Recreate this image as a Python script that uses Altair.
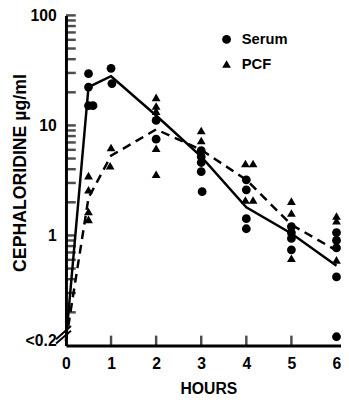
import altair as alt
import pandas as pd

FONT = "Liberation Sans"

# ---- data ----
hours = [0, 1, 2, 3, 4, 5, 6]
y_label_values = [0.11, 1, 10, 100]          # 0.11 = the "<0.2" level

serum_t = [0.5, 0.5, 0.5, 0.6, 1.0, 1.02, 2, 2, 3, 3, 3, 3, 3.02,
           4, 4, 4, 4, 5, 5, 5, 5, 6, 6, 6, 6, 6]
serum_v = [29.5, 22.3, 15.1, 15.1, 33, 24, 11.1, 7.5, 5.9, 5.2, 4.6, 3.8, 2.5,
           3.2, 2.6, 1.42, 1.15, 1.2, 1.06, 0.94, 0.74, 1.06, 0.9, 0.77, 0.42, 0.12]

pcf_t = [0.5, 0.5, 0.5, 0.5, 1.0, 0.98, 2, 2, 2, 2, 2, 3, 3,
         3.98, 4.15, 3.98, 4.15, 5, 5, 5, 6, 6, 6]
pcf_v = [3.5, 2.6, 1.65, 1.4, 6.3, 4.3, 18, 15, 13.5, 6.2, 3.6, 9.0, 7.3,
         4.5, 4.5, 2.1, 2.1, 2.05, 1.6, 0.62, 1.5, 1.36, 0.6]

mean_t = [0, 0.5, 1, 2, 3, 4, 5, 6]
serum_mean = [0.11, 22.3, 28, 12.3, 5.2, 1.8, 1.04, 0.53]
pcf_mean = [0.11, 2.2, 5.3, 9.2, 6.0, 3.2, 1.25, 0.73]

minor_ticks = [0.2, 0.3, 0.4, 0.5, 0.6, 0.7, 0.8, 0.9,
               2, 3, 4, 5, 6, 7, 8, 9,
               20, 30, 40, 50, 60, 70, 80, 90]
major_ticks = [1, 10, 100]
x_inner_ticks = [1, 2, 3, 4, 5]

W, H = 280, 336
xscale = alt.Scale(domain=[0, 6.1], nice=False, zero=False)
yscale = alt.Scale(type="log", domain=[0.1, 100], nice=False)

pts_df = pd.DataFrame({
    "t": serum_t + pcf_t,
    "v": serum_v + pcf_v,
    "series": ["Serum"] * len(serum_t) + ["PCF"] * len(pcf_t),
})
serum_df = pd.DataFrame({"t": mean_t, "v": serum_mean})
pcf_df = pd.DataFrame({"t": mean_t, "v": pcf_mean})
ytick_df = pd.DataFrame({"v": minor_ticks + major_ticks})
xtick_df = pd.DataFrame({"t": x_inner_ticks})
brk_df = pd.DataFrame({"t": [-0.22, -0.22], "t2": [0.11, 0.11],
                       "v": [0.104, 0.114], "v2": [0.136, 0.15]})

x_axis = alt.Axis(values=hours, title="HOURS", grid=False, ticks=False,
                  domainWidth=3, domainColor="black", labelFlush=False,
                  labelFont=FONT, labelFontSize=16, labelFontWeight="bold",
                  labelColor="black", labelPadding=10,
                  titleFont=FONT, titleFontSize=16, titleFontWeight="bold",
                  titleColor="black", titleX=145, titleY=44,
                  titleBaseline="middle", titleAlign="center")

y_axis = alt.Axis(values=y_label_values, title="CEPHALORIDINE µg/ml", grid=False,
                  ticks=False, domainWidth=3, domainColor="black",
                  labelExpr="datum.value < 0.5 ? '<0.2' : format(datum.value, 'd')",
                  labelFont=FONT, labelFontSize=16, labelFontWeight="bold",
                  labelColor="black", labelPadding=10, labelOverlap=False,
                  titleFont=FONT, titleFontSize=18, titleFontWeight="bold",
                  titleColor="black", titleX=-46, titleY=160,
                  titleBaseline="middle", titleAlign="center", titleAngle=270)

X = alt.X("t:Q", scale=xscale, axis=x_axis)
Y = alt.Y("v:Q", scale=yscale, axis=y_axis)

points = alt.Chart(pts_df).mark_point(filled=True, opacity=1, color="black", size=80).encode(
    x=X, y=Y,
    shape=alt.Shape("series:N",
                    scale=alt.Scale(domain=["Serum", "PCF"], range=["circle", "triangle-up"]),
                    legend=alt.Legend(title=None, orient="none", legendX=156, legendY=17,
                                      symbolFillColor="black", symbolStrokeColor="black",
                                      symbolOpacity=1, symbolSize=80, rowPadding=9,
                                      labelFont=FONT, labelFontSize=15, labelFontWeight="bold",
                                      labelColor="black", labelOffset=8)),
)

serum_line = alt.Chart(serum_df).mark_line(color="black", strokeWidth=2.5).encode(x=X, y=Y)
pcf_line = alt.Chart(pcf_df).mark_line(color="black", strokeWidth=2.5, strokeDash=[9, 6]).encode(x=X, y=Y)

yticks = alt.Chart(ytick_df).mark_tick(orient="horizontal", color="black", thickness=2.5, size=10).encode(
    y=Y, x=alt.value(5),
)
xticks = alt.Chart(xtick_df).mark_tick(orient="vertical", color="black", thickness=2.5, size=10).encode(
    x=X, y=alt.value(H - 5),
)
brk = alt.Chart(brk_df).mark_rule(color="black", strokeWidth=2).encode(
    x=X, x2="t2:Q", y=Y, y2="v2:Q",
)

chart = alt.layer(points, serum_line, pcf_line, yticks, xticks, brk).properties(
    width=W, height=H,
    autosize=alt.AutoSizeParams(type="none"),
    padding={"left": 59, "top": 4, "right": 0, "bottom": 52},
    background="white",
).configure_view(stroke=None)

chart.save("out.html", embed_options={"renderer": "svg", "actions": False})
